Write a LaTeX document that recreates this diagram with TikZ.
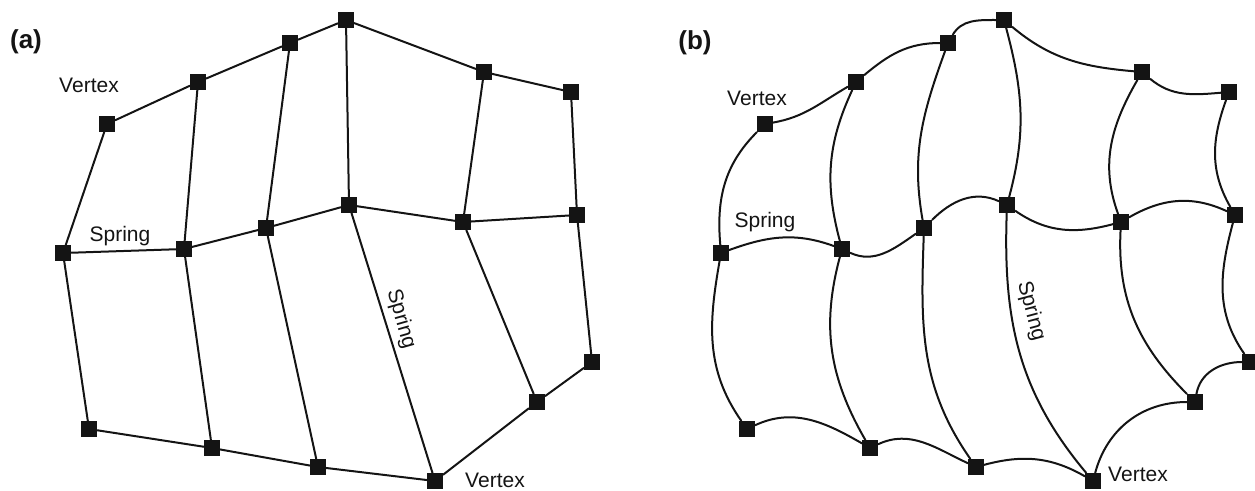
\documentclass[tikz,border=0pt]{standalone}
\usepackage{fontspec}
\setmainfont{Liberation Sans}
\usetikzlibrary{backgrounds}
\definecolor{ink}{HTML}{141414}
\begin{document}
\begin{tikzpicture}[x=1pt,y=1pt,
  vtx/.style={fill=ink, draw=none, minimum size=16pt, inner sep=0pt, outer sep=0pt, rectangle},
  spr/.style={line width=2pt, draw=ink},
  lbl/.style={font=\fontsize{21}{25}\selectfont, inner sep=0pt, text=ink},
  plbl/.style={font=\fontsize{26}{30}\selectfont\bfseries, inner sep=0pt, text=ink}]
\useasboundingbox (0,0) rectangle (1255,-490);
% ---------- panel (a) ----------
\node[vtx] (a1) at (107,-124) {};
\node[vtx] (a2) at (198,-82) {};
\node[vtx] (a3) at (290,-43) {};
\node[vtx] (a4) at (346,-20) {};
\node[vtx] (a5) at (484,-72) {};
\node[vtx] (a6) at (571,-92) {};
\node[vtx] (m1) at (63,-253) {};
\node[vtx] (m2) at (184,-249) {};
\node[vtx] (m3) at (266,-228) {};
\node[vtx] (m4) at (349,-205) {};
\node[vtx] (m5) at (463,-222) {};
\node[vtx] (m6) at (577,-215) {};
\node[vtx] (b1) at (89,-429) {};
\node[vtx] (b2) at (212,-448) {};
\node[vtx] (b3) at (318,-467) {};
\node[vtx] (b4) at (435,-481) {};
\node[vtx] (b5) at (537,-402) {};
\node[vtx] (b6) at (592,-362) {};
\begin{pgfonlayer}{background}
\draw[spr] (a1)--(a2)--(a3)--(a4)--(a5)--(a6);
\draw[spr] (m1)--(m2)--(m3)--(m4)--(m5)--(m6);
\draw[spr] (b1)--(b2)--(b3)--(b4)--(b5)--(b6);
\draw[spr] (a1)--(m1)--(b1);
\draw[spr] (a2)--(m2)--(b2);
\draw[spr] (a3)--(m3)--(b3);
\draw[spr] (a4)--(m4)--(b4);
\draw[spr] (a5)--(m5)--(b5);
\draw[spr] (a6)--(m6)--(b6);
\end{pgfonlayer}
\node[plbl] (pa) at (26,-42) {(a)};
\node[lbl] (va1) at (89,-85) {Vertex};
\node[lbl] (sa1) at (120,-236) {Spring};
\node[lbl, rotate=-74] (sa2) at (401,-319) {Spring};
\node[lbl] (va2) at (495,-480) {Vertex};
% ---------- panel (b) ----------
\begin{scope}[xshift=658pt]
\node[vtx] (qa1) at (107,-124) {};
\node[vtx] (qa2) at (198,-82) {};
\node[vtx] (qa3) at (290,-43) {};
\node[vtx] (qa4) at (346,-20) {};
\node[vtx] (qa5) at (484,-72) {};
\node[vtx] (qa6) at (571,-92) {};
\node[vtx] (qm1) at (63,-253) {};
\node[vtx] (qm2) at (184,-249) {};
\node[vtx] (qm3) at (266,-228) {};
\node[vtx] (qm4) at (349,-205) {};
\node[vtx] (qm5) at (463,-222) {};
\node[vtx] (qm6) at (577,-215) {};
\node[vtx] (qb1) at (89,-429) {};
\node[vtx] (qb2) at (212,-448) {};
\node[vtx] (qb3) at (318,-467) {};
\node[vtx] (qb4) at (435,-481) {};
\node[vtx] (qb5) at (537,-402) {};
\node[vtx] (qb6) at (592,-362) {};
\end{scope}
\begin{pgfonlayer}{background}
% top
\draw[spr] (qa1) to[out=10,in=210] (qa2);
\draw[spr] (qa2) to[out=40,in=180] (qa3);
\draw[spr] (qa3) to[out=60,in=180] (qa4);
\draw[spr] (qa4) to[out=-40,in=175] (qa5);
\draw[spr] (qa5) to[out=-40,in=185] (qa6);
% middle
\draw[spr] (qm1) to[out=20,in=160] (qm2);
\draw[spr] (qm2) to[out=-25,in=215] (qm3);
\draw[spr] (qm3) to[out=45,in=155] (qm4);
\draw[spr] (qm4) to[out=-35,in=195] (qm5);
\draw[spr] (qm5) to[out=30,in=155] (qm6);
% bottom
\draw[spr] (qb1) to[out=25,in=150] (qb2);
\draw[spr] (qb2) to[out=25,in=155] (qb3);
\draw[spr] (qb3) to[out=15,in=150] (qb4);
\draw[spr] (qb4) to[out=75,in=180] (qb5);
\draw[spr] (qb5) to[out=80,in=180] (qb6);
% verticals
\draw[spr] (qa1) to[out=225,in=95] (qm1);
\draw[spr] (qm1) to[out=260,in=125] (qb1);
\draw[spr] (qa2) to[out=245,in=105] (qm2);
\draw[spr] (qm2) to[out=255,in=120] (qb2);
\draw[spr] (qa3) to[out=250,in=100] (qm3);
\draw[spr] (qm3) to[out=268,in=125] (qb3);
\draw[spr] (qa4) to[out=-75,in=75] (qm4);
\draw[spr] (qm4) to[out=268,in=130] (qb4);
\draw[spr] (qa5) to[out=240,in=110] (qm5);
\draw[spr] (qm5) to[out=267,in=135] (qb5);
\draw[spr] (qa6) to[out=250,in=120] (qm6);
\draw[spr] (qm6) to[out=255,in=125] (qb6);
\end{pgfonlayer}
\node[plbl] (pb) at (695,-43) {(b)};
\node[lbl] (vb1) at (757,-98) {Vertex};
\node[lbl] (sb1) at (765,-222) {Spring};
\node[lbl, rotate=-75] (sb2) at (1031,-311) {Spring};
\node[lbl] (vb2) at (1138,-474) {Vertex};
\end{tikzpicture}
\end{document}
